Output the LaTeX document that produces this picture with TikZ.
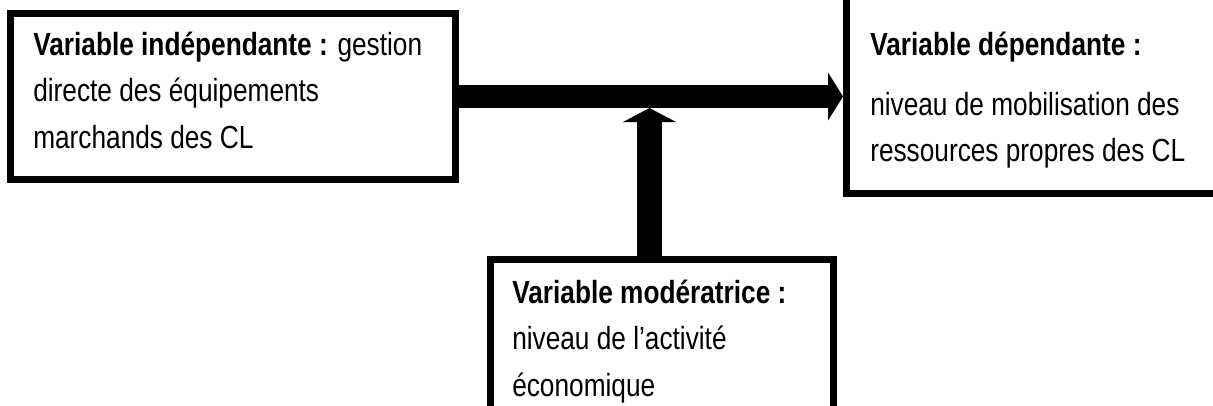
\documentclass[tikz,border=0pt]{standalone}
\usepackage{fontspec}
\setmainfont{Liberation Sans}[FakeStretch=0.82]
\usetikzlibrary{arrows.meta}

\begin{document}
\begin{tikzpicture}[x=0.75pt,y=-0.75pt,
  varbox/.style={draw,line width=5.25pt,rectangle,anchor=north west,inner sep=0pt},
  vartext/.style={anchor=base west,inner sep=0pt,font=\fontsize{24}{35}\selectfont},
  fatarrow/.style={line width=17.25pt,-{Triangle[width=36pt,length=11.25pt,line width=0pt]}},
  fatarrowup/.style={line width=18.75pt,-{Triangle[width=39.75pt,length=10.5pt,line width=0pt]}}]
\useasboundingbox (0,0) rectangle (1213,405);
\clip (0,0) rectangle (1213,405);

\node[varbox,minimum width=333.75pt,minimum height=124.5pt] (indep) at (7,10) {};
\node[varbox,minimum width=295.125pt,minimum height=159.75pt] (dep) at (843,-23.5) {};
\node[varbox,minimum width=256.875pt,minimum height=135.75pt] (mod) at (487,255.5) {};

\node[vartext] (indeptext) at (33,55) {\begin{tabular}[t]{@{}l@{}}
  \textbf{Variable indépendante :} gestion\\
  directe des équipements\\
  marchands des CL\end{tabular}};
\node[vartext] (deptext) at (870,55) {\begin{tabular}[t]{@{}l@{}}
  \textbf{Variable dépendante :}\\[10pt]
  niveau de mobilisation des\\
  ressources propres des CL\end{tabular}};
\node[vartext] (modtext) at (512,303) {\begin{tabular}[t]{@{}l@{}}
  \textbf{Variable modératrice :}\\
  niveau de l’activité\\
  économique\end{tabular}};

\coordinate (junction) at (649.5,108);
\draw[fatarrow] (indep.east) -- (indep.east -| dep.west);
\draw[fatarrowup] (mod.north -| junction) -- (junction);
\end{tikzpicture}
\end{document}
